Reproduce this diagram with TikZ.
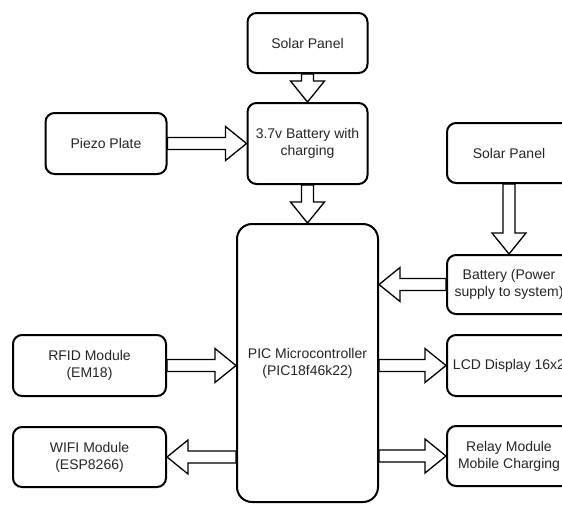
\documentclass[tikz,border=0pt]{standalone}
\usepackage{fontspec}
\setmainfont{Liberation Sans}
\usepackage{xcolor}
\usetikzlibrary{positioning, calc, backgrounds}

\tikzset{
  block/.style={draw, line width=2pt, rounded corners=9pt, fill=white,
    text=black!85, align=center, inner sep=0pt,
    font=\fontsize{14}{16.8}\selectfont},
  fat/.style={draw, line width=1.3pt, fill=white, line join=miter,
    to path={let \p1=(\tikztostart), \p2=(\tikztotarget),
      \n1={atan2(\y2-\y1,\x2-\x1)}, \n2={veclen(\x2-\x1,\y2-\y1)} in
      {[shift={(\p1)}, rotate=\n1]
        (0,-6) -- (\n2-21,-6) -- (\n2-21,-17) -- (\n2,0)
        -- (\n2-21,17) -- (\n2-21,6) -- (0,6) -- cycle}}}
}

\begin{document}
\begin{tikzpicture}[x=1pt, y=-1pt, on grid]
        \useasboundingbox (0,0) rectangle (562,504);
        \clip (0,0) rectangle (562,504);

        \node[block, minimum width=141pt, minimum height=278pt, rounded corners=15pt] (pic) at (307.5,363) {PIC Microcontroller\\(PIC18f46k22)};
        \node[block, minimum width=120pt, minimum height=81pt, above=219.5pt of pic] (bat) {3.7v Battery with\\charging};
        \node[block, minimum width=120pt, minimum height=60pt, above=100.5pt of bat] (solar1) {Solar Panel};
        \node[block, minimum width=121pt, minimum height=61pt, left=201.5pt of bat] (piezo) {Piezo Plate};

        \node[block, minimum width=153pt, minimum height=61pt] (rfid) at (89.5,365.5) {RFID Module\\(EM18)};
        \node[block, minimum width=153pt, minimum height=60pt, below=91.5pt of rfid] (wifi) {WIFI Module\\(ESP8266)};

        \node[block, minimum width=124pt, minimum height=61pt] (lcd) at (509,365.5) {LCD Display 16x2};
        \node[block, minimum width=124pt, minimum height=59pt, above=81pt of lcd] (batp) {Battery (Power\\supply to system)};
        \node[block, minimum width=124pt, minimum height=60pt, above=131.5pt of batp] (solar2) {Solar Panel};
        \node[block, minimum width=124pt, minimum height=60pt, below=90.5pt of lcd] (relay) {Relay Module\\Mobile Charging};

        \begin{scope}[on background layer]
        \path[fat] (solar1.south) to (bat.north);
        \path[fat] (piezo.east) to (bat.west);
        \path[fat] (bat.south) to (pic.north);
        \path[fat] (solar2.south) to (batp.north);
        \path[fat] (batp.west) to (pic.east |- batp.west);
        \path[fat] (rfid.east) to (pic.west |- rfid.east);
        \path[fat] (pic.west |- wifi.east) to (wifi.east);
        \path[fat] (pic.east |- lcd.west) to (lcd.west);
        \path[fat] (pic.east |- relay.west) to (relay.west);
        \end{scope}
\end{tikzpicture}
\end{document}
